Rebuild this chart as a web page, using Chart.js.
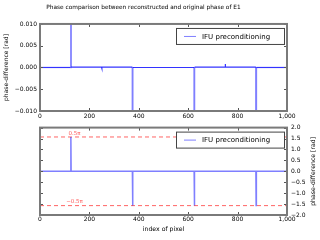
<!DOCTYPE html>
<html>
<head>
<meta charset="utf-8">
<script src="https://cdn.jsdelivr.net/npm/chart.js@4.4.1/dist/chart.umd.min.js"></script>
<style>
  html, body { margin: 0; padding: 0; background: #fff; }
  #wrap { position: relative; width: 320px; height: 240px; }
  .panel { position: absolute; left: 0; width: 320px; height: 120px; }
</style>
</head>
<body>
<div id="wrap">
  <div class="panel" style="top:0"><canvas id="topChart"></canvas></div>
  <div class="panel" style="top:120px"><canvas id="bottomChart"></canvas></div>
</div>
<script>
// Data
const pixelIndex = [0, 124, 125, 126, 249, 250, 251, 374, 375, 376, 624, 625, 626, 749, 750, 751, 874, 875, 876, 1000];
const phaseDiff = [0, 0, 1.5708, 0.0001, 0.0001, -0.0002, 0.0001, 0.0001, -1.5708, 0, 0, -1.5708, 0.0001, 0.0001, 0.0008, 0.0001, 0.0001, -1.5708, 0, 0];
const piLevels = [0.5 * Math.PI, -0.5 * Math.PI];
const piLabels = ['0.5π', '−0.5π'];
const xRange = [0, 1000];
const topYRange = [-0.01, 0.01];
const bottomYRange = [-2, 2];

const FONT = 'DejaVu Sans';
const lineColor = 'rgba(0, 0, 255, 0.5)';
const seriesLabel = 'IFU preconditioning';

Chart.defaults.font.family = FONT;
Chart.defaults.color = '#000';

const points = pixelIndex.map((x, i) => ({ x: x, y: phaseDiff[i] }));
const fmtMinus = (s) => s.replace('-', '\u2212');

// Frame with inward ticks (classic matplotlib look)
const frameTicks = {
    id: 'frameTicks',
    afterDatasetsDraw(chart) {
        const { ctx, chartArea: a, scales } = chart;
        ctx.save();
        ctx.strokeStyle = '#555';
        ctx.lineWidth = 1;
        ctx.beginPath();
        scales.x.ticks.forEach(t => {
            const px = Math.round(scales.x.getPixelForValue(t.value)) + 0.5;
            ctx.moveTo(px, a.bottom); ctx.lineTo(px, a.bottom - 3);
            ctx.moveTo(px, a.top); ctx.lineTo(px, a.top + 3);
        });
        scales.y.ticks.forEach(t => {
            const py = Math.round(scales.y.getPixelForValue(t.value)) + 0.5;
            ctx.moveTo(a.left, py); ctx.lineTo(a.left + 3, py);
            ctx.moveTo(a.right, py); ctx.lineTo(a.right - 3, py);
        });
        ctx.stroke();
        ctx.strokeStyle = '#7a7a7a';
        ctx.lineWidth = 2;
        ctx.strokeRect(a.left, a.top, a.right - a.left, a.bottom - a.top);
        ctx.restore();
    }
};

// Legend box in the upper right corner
const legendBox = {
    id: 'legendBox',
    afterDraw(chart) {
        const { ctx, chartArea: a } = chart;
        const ds = chart.data.datasets[0];
        const w = 108, h = 16;
        const x = a.right - 3 - w, y = a.top + 4;
        ctx.save();
        ctx.fillStyle = '#fff';
        ctx.fillRect(x, y, w, h);
        ctx.strokeStyle = '#444';
        ctx.lineWidth = 1;
        ctx.strokeRect(x + 0.5, y + 0.5, w, h);
        ctx.strokeStyle = lineColor;
        ctx.beginPath();
        ctx.moveTo(x + 8, y + h / 2 + 0.5);
        ctx.lineTo(x + 20, y + h / 2 + 0.5);
        ctx.stroke();
        ctx.fillStyle = '#000';
        ctx.font = '7px ' + FONT;
        ctx.textBaseline = 'middle';
        ctx.fillText(ds.label, x + 26, y + h / 2 + 1);
        ctx.restore();
    }
};

// Labels over the ±0.5π lines and right-side axis title
const bottomText = {
    id: 'bottomText',
    afterDatasetsDraw(chart) {
        const { ctx, chartArea: a, scales } = chart;
        ctx.save();
        ctx.fillStyle = '#ff6060';
        ctx.font = '5.5px ' + FONT;
        ctx.textAlign = 'center';
        ctx.textBaseline = 'bottom';
        piLevels.forEach((v, i) => {
            ctx.fillText(piLabels[i], scales.x.getPixelForValue(140), scales.y.getPixelForValue(v) - 1);
        });
        ctx.fillStyle = '#000';
        ctx.font = '6.2px ' + FONT;
        ctx.textBaseline = 'middle';
        ctx.translate(313, (a.top + a.bottom) / 2);
        ctx.rotate(-Math.PI / 2);
        ctx.fillText('phase-difference [rad]', 0, 0);
        ctx.restore();
    }
};

// Top panel
new Chart(document.getElementById('topChart'), {
    type: 'line',
    data: {
        datasets: [{
            label: seriesLabel,
            data: points,
            borderColor: lineColor,
            borderWidth: 1.5,
            pointRadius: 0,
            tension: 0,
            clip: 0,
            // the noisy flat part reads darker than the spikes
            segment: {
                borderColor: c => Math.abs(c.p1.parsed.y - c.p0.parsed.y) < 0.005 ? 'rgba(0, 0, 255, 0.8)' : undefined,
                borderWidth: c => Math.abs(c.p1.parsed.y - c.p0.parsed.y) < 0.005 ? 1.2 : undefined
            }
        }]
    },
    options: {
        responsive: true,
        maintainAspectRatio: false,
        animation: false,
        devicePixelRatio: 1,
        layout: { padding: { left: 0, right: 33, top: 0, bottom: 0 } },
        plugins: {
            legend: { display: false },
            tooltip: { enabled: false },
            title: {
                display: true,
                text: 'Phase comparison between reconstructed and original phase of E1',
                font: { size: 5.8, weight: 'normal' },
                padding: { top: 4, bottom: 13 }
            }
        },
        scales: {
            x: {
                type: 'linear',
                min: xRange[0],
                max: xRange[1],
                grid: { display: false, drawTicks: false },
                border: { display: false },
                ticks: { stepSize: 200, font: { size: 6 }, padding: 1.5, maxRotation: 0 },
                afterFit: s => { s.height = 9; }
            },
            y: {
                min: topYRange[0],
                max: topYRange[1],
                grid: { display: false, drawTicks: false },
                border: { display: false },
                ticks: {
                    stepSize: 0.005,
                    font: { size: 6 },
                    padding: 3,
                    callback: v => fmtMinus(v.toFixed(3))
                },
                title: {
                    display: true,
                    text: 'phase-difference [rad]',
                    font: { size: 6 },
                    padding: { top: 3, bottom: 0 }
                },
                afterFit: s => { s.width = 40; }
            }
        }
    },
    plugins: [frameTicks, legendBox]
});

// Bottom panel
const dashedSets = piLevels.map(v => ({
    label: '',
    data: xRange.map(x => ({ x: x, y: v })),
    borderColor: '#ff6464',
    borderWidth: 1,
    borderDash: [4, 3],
    pointRadius: 0
}));

new Chart(document.getElementById('bottomChart'), {
    type: 'line',
    data: {
        datasets: [{
            label: seriesLabel,
            data: points,
            borderColor: lineColor,
            borderWidth: 1.5,
            pointRadius: 0,
            tension: 0,
            clip: 0
        }, ...dashedSets]
    },
    options: {
        responsive: true,
        maintainAspectRatio: false,
        animation: false,
        devicePixelRatio: 1,
        layout: { padding: { left: 40, right: 0, top: 7, bottom: 0 } },
        plugins: {
            legend: { display: false },
            tooltip: { enabled: false }
        },
        scales: {
            x: {
                type: 'linear',
                min: xRange[0],
                max: xRange[1],
                grid: { display: false, drawTicks: false },
                border: { display: false },
                ticks: { stepSize: 200, font: { size: 6 }, padding: 1, maxRotation: 0 },
                title: {
                    display: true,
                    text: 'index of pixel',
                    font: { size: 6.2 },
                    padding: { top: 0, bottom: 7 }
                },
                afterFit: s => { s.height = 25; }
            },
            y: {
                position: 'right',
                min: bottomYRange[0],
                max: bottomYRange[1],
                grid: { display: false, drawTicks: false },
                border: { display: false },
                ticks: {
                    stepSize: 0.5,
                    font: { size: 6 },
                    padding: 4,
                    callback: v => fmtMinus(v.toFixed(1))
                },
                afterFit: s => { s.width = 33; }
            }
        }
    },
    plugins: [frameTicks, legendBox, bottomText]
});
</script>
</body>
</html>
